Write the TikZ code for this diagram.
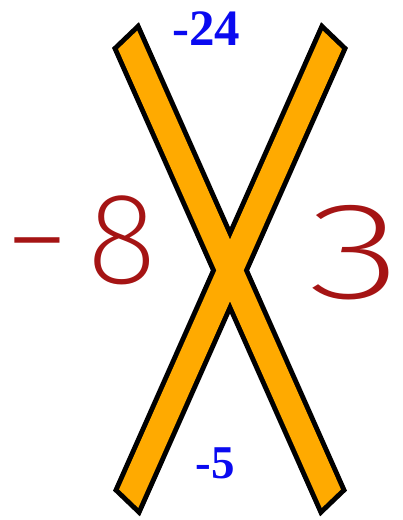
\documentclass[tikz,border=0pt]{standalone}
\usepackage{fontspec}
\usepackage{tikz}
\setmainfont{Liberation Serif}
\newfontfamily\handfont{Fira Sans ExtraLight}
\definecolor{naranja}{RGB}{255,170,0}
\definecolor{azul}{RGB}{10,10,240}
\definecolor{granate}{RGB}{165,20,20}
\newcommand{\cruz}{(118.05,49.04) -- (137.25,30.64) -- (340.95,489.46) -- (321.75,507.86) -- cycle
  (322.75,30.64) -- (341.95,49.04) -- (138.25,507.86) -- (119.05,489.46) -- cycle}

\begin{document}
\begin{tikzpicture}[x=1pt,y=-1pt,
  valor/.style={text=azul,inner sep=0pt,anchor=base,font=\bfseries\fontsize{51}{51}\selectfont},
  mano/.style={text=granate,inner sep=0pt,anchor=base,font=\handfont\fontsize{130}{130}\selectfont}]
\useasboundingbox (0,0) rectangle (403,520);
% outline of both bars first, fill on top so the crossing stays clean
\draw[line width=10pt,line join=miter] \cruz;
\fill[naranja] \cruz;
\node[valor] (arriba) at (206.5,45) {-24};
\node[valor,font=\bfseries\fontsize{47}{47}\selectfont] (abajo) at (215,478) {-5};
\node[mano] (izq) at (81.5,283) {−\hspace{18pt}8};
\node[mano,font=\handfont\fontsize{138}{138}\selectfont] (der) at (355,298) {\scalebox{1.4}[1]{3}};
\end{tikzpicture}
\end{document}
